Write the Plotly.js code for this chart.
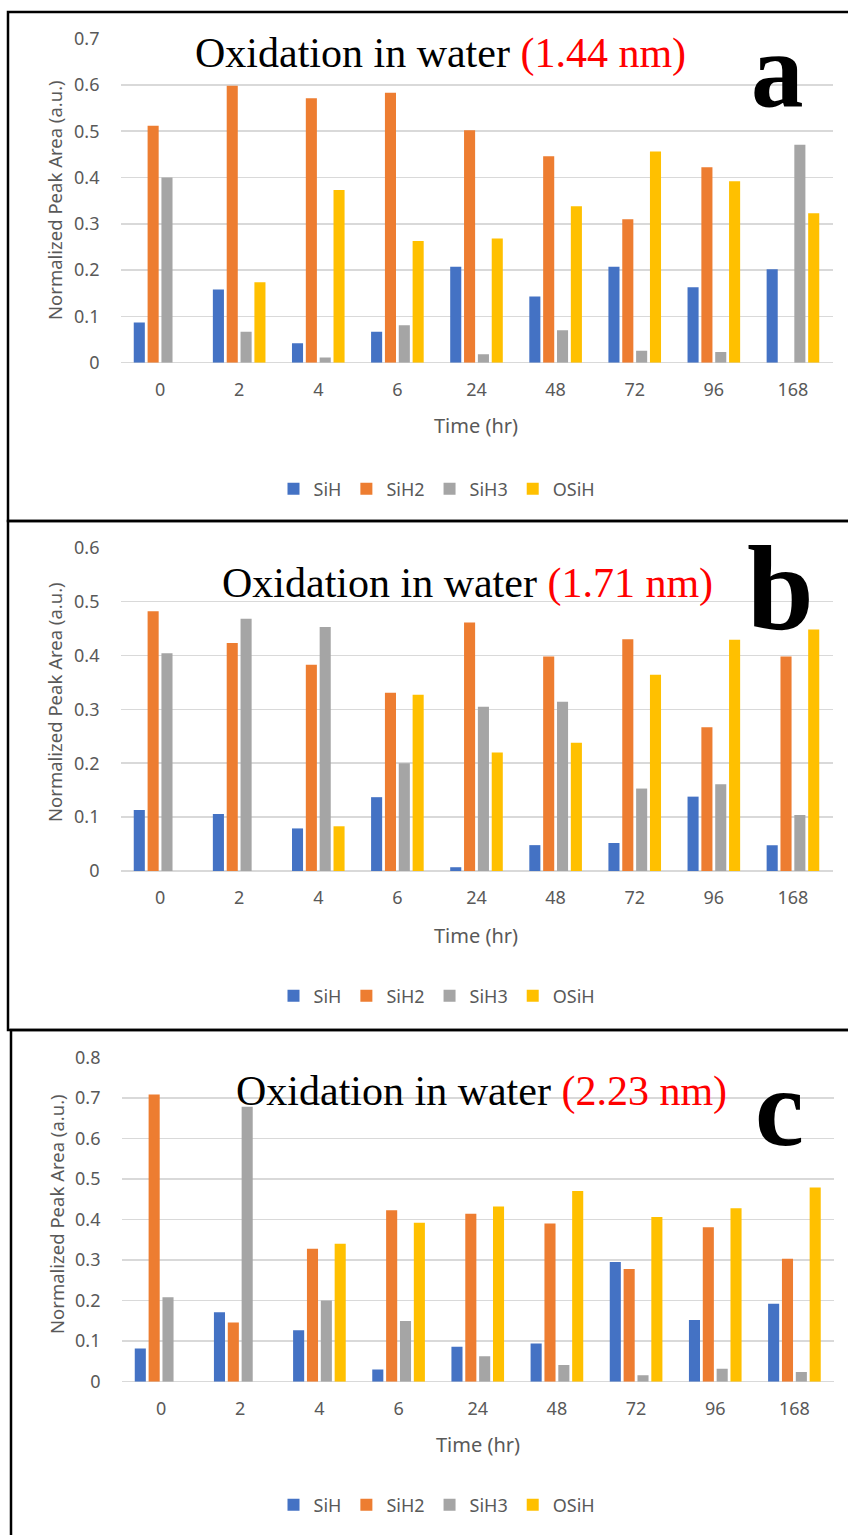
<!DOCTYPE html>
<html>
<head>
<meta charset="utf-8">
<script src="https://cdn.plot.ly/plotly-3.0.1.min.js"></script>
<style>html,body{margin:0;padding:0;background:#fff;}#chart{width:848px;height:1535px;}</style>
</head>
<body>
<div id="chart"></div>
<script>
const categories = ['0','2','4','6','24','48','72','96','168'];
const seriesNames = ['SiH','SiH2','SiH3','OSiH'];
const seriesColors = ['#4472C4','#ED7D31','#A5A5A5','#FFC000'];

const a_SiH  = [0.087,0.158,0.042,0.067,0.207,0.143,0.207,0.163,0.202];
const a_SiH2 = [0.512,0.598,0.571,0.583,0.502,0.446,0.310,0.422,0];
const a_SiH3 = [0.400,0.067,0.011,0.081,0.018,0.070,0.026,0.023,0.471];
const a_OSiH = [0,0.174,0.373,0.263,0.268,0.338,0.456,0.392,0.323];

const b_SiH  = [0.113,0.106,0.079,0.137,0.007,0.048,0.052,0.138,0.048];
const b_SiH2 = [0.482,0.423,0.383,0.331,0.461,0.398,0.430,0.267,0.398];
const b_SiH3 = [0.404,0.468,0.453,0.200,0.305,0.314,0.153,0.161,0.104];
const b_OSiH = [0,0,0.083,0.327,0.220,0.238,0.364,0.429,0.448];

const c_SiH  = [0.082,0.171,0.127,0.030,0.086,0.094,0.295,0.152,0.192];
const c_SiH2 = [0.708,0.146,0.328,0.423,0.414,0.390,0.278,0.381,0.303];
const c_SiH3 = [0.208,0.678,0.200,0.150,0.063,0.041,0.016,0.032,0.024];
const c_OSiH = [0,0,0.340,0.392,0.432,0.470,0.406,0.428,0.479];

const panelTitles = ['(1.44 nm)','(1.71 nm)','(2.23 nm)'];
const panelLetters = ['a','b','c'];
const xTitle = 'Time (hr)';
const yTitle = 'Normalized Peak Area (a.u.)';

const W = 848, H = 1535;
const px = x => x / W;
const py = y => 1 - y / H;

const panels = [
  {data:[a_SiH,a_SiH2,a_SiH3,a_OSiH], top:38.6, bottom:362.7, ymax:0.7, x0:120.5, x1:832.5},
  {data:[b_SiH,b_SiH2,b_SiH3,b_OSiH], top:547.7, bottom:871, ymax:0.6, x0:120.5, x1:832.5},
  {data:[c_SiH,c_SiH2,c_SiH3,c_OSiH], top:1057.3, bottom:1381.7, ymax:0.8, x0:121.5, x1:834}
];

const sansFam = 'Noto Sans, Open Sans, sans-serif';
const tickFont = {family:sansFam, size:18, color:'#595959'};
const traces = [];
const layout = {
  width:W, height:H, margin:{l:0,r:0,t:0,b:0},
  paper_bgcolor:'#fff', plot_bgcolor:'#fff',
  barmode:'group', bargap:0.3, bargroupgap:0.2,
  showlegend:true, annotations:[], shapes:[]
};

const legendY = [489, 996, 1505];
const titleCenter = [[440,53],[467,583],[481,1091]];
const letterPos = [[777,70,105],[780,588,120],[779,1108,110]];
const xTitlePos = [[476,425],[476,935],[478,1444]];
const yTitlePos = [[54,200],[54,702],[56,1214]];

panels.forEach((p, i) => {
  const k = i === 0 ? '' : String(i+1);
  const legendName = 'legend' + k;
  p.data.forEach((vals, s) => {
    traces.push({
      type:'bar', x:categories, y:vals, name:seriesNames[s],
      marker:{color:seriesColors[s], line:{width:0}},
      xaxis:'x'+k, yaxis:'y'+k, legend:legendName,
      hoverinfo:'skip'
    });
  });
  layout['xaxis'+k] = {
    domain:[px(p.x0), px(p.x1)], anchor:'y'+k, type:'category',
    showgrid:false, showline:false, zeroline:false, ticks:'',
    tickfont:tickFont, ticklabelstandoff:14, fixedrange:true
  };
  layout['yaxis'+k] = {
    domain:[py(p.bottom), py(p.top)], anchor:'x'+k, range:[0,p.ymax],
    dtick:0.1, showgrid:true, gridcolor:'#D9D9D9', gridwidth:1.5,
    zeroline:true, zerolinecolor:'#D9D9D9', zerolinewidth:1.5,
    showline:false, ticks:'', tickfont:tickFont, ticklabelstandoff:20, fixedrange:true
  };
  layout[legendName] = {
    orientation:'h', x:px(437), xanchor:'center', y:py(legendY[i]), yanchor:'middle',
    font:{family:sansFam, size:18, color:'#595959'},
    bgcolor:'rgba(0,0,0,0)', itemwidth:30, tracegroupgap:0
  };
  layout.annotations.push({
    xref:'paper', yref:'paper', x:px(titleCenter[i][0]), y:py(titleCenter[i][1]),
    xanchor:'center', yanchor:'middle', showarrow:false,
    text:'Oxidation in water <span style="color:#FF0000">' + panelTitles[i] + '</span>',
    font:{family:'Liberation Serif, serif', size:42, color:'#000'}
  });
  layout.annotations.push({
    xref:'paper', yref:'paper', x:px(letterPos[i][0]), y:py(letterPos[i][1]),
    xanchor:'center', yanchor:'middle', showarrow:false,
    text:'<b>' + panelLetters[i] + '</b>',
    font:{family:'Liberation Serif, serif', size:letterPos[i][2], color:'#000'}
  });
  layout.annotations.push({
    xref:'paper', yref:'paper', x:px(xTitlePos[i][0]), y:py(xTitlePos[i][1]),
    xanchor:'center', yanchor:'middle', showarrow:false, text:xTitle,
    font:{family:sansFam, size:20, color:'#595959'}
  });
  layout.annotations.push({
    xref:'paper', yref:'paper', x:px(yTitlePos[i][0]), y:py(yTitlePos[i][1]),
    xanchor:'center', yanchor:'middle', showarrow:false, text:yTitle, textangle:-90,
    font:{family:sansFam, size:18.5, color:'#595959'}
  });
});

layout.shapes = [
  {type:'rect', xref:'paper', yref:'paper', x0:px(8), x1:px(860), y0:py(521), y1:py(12), line:{color:'#000', width:2.5}},
  {type:'rect', xref:'paper', yref:'paper', x0:px(8), x1:px(860), y0:py(1030), y1:py(521), line:{color:'#000', width:2.5}},
  {type:'rect', xref:'paper', yref:'paper', x0:px(11), x1:px(860), y0:py(1545), y1:py(1030), line:{color:'#000', width:2.5}}
];

Plotly.newPlot('chart', traces, layout, {displayModeBar:false, staticPlot:true});
</script>
</body>
</html>
